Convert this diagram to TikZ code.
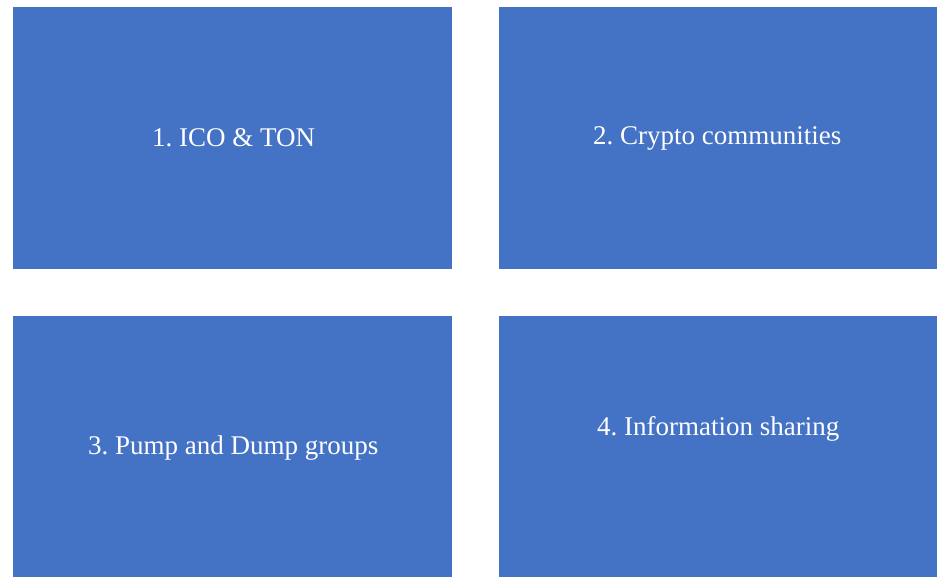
\documentclass[tikz,border=0pt]{standalone}
\usepackage{fontspec}
\setmainfont{Liberation Serif}
\usetikzlibrary{calc}
\definecolor{boxblue}{HTML}{4472C4}
\begin{document}
\frenchspacing
\begin{tikzpicture}[x=1pt,y=1pt,
  bluebox/.style={fill=boxblue, draw=none, inner sep=0pt, minimum width=439pt, minimum height=262pt, anchor=north west},
  boxtext/.style={text=white, font=\fontsize{27}{31}\selectfont, inner sep=0pt, anchor=base}]
\useasboundingbox[fill=white] (0,0) rectangle (938,577);
\node[bluebox] (b1) at (13,570) {};
\node[bluebox, minimum width=438pt] (b2) at (499,570) {};
\node[bluebox, minimum height=261pt] (b3) at (13,261) {};
\node[bluebox, minimum width=438pt, minimum height=261pt] (b4) at (499,261) {};
\node[boxtext] (t1) at ($(b1.center)+(1,-8)$) {1. ICO \& TON};
\node[boxtext] (t2) at ($(b2.center)+(-1,-6)$) {2. Crypto communities};
\node[boxtext] (t3) at ($(b3.center)+(0.5,-7.5)$) {3. Pump and Dump groups};
\node[boxtext] (t4) at ($(b4.center)+(0,11.5)$) {4. Information sharing};
\end{tikzpicture}
\end{document}
